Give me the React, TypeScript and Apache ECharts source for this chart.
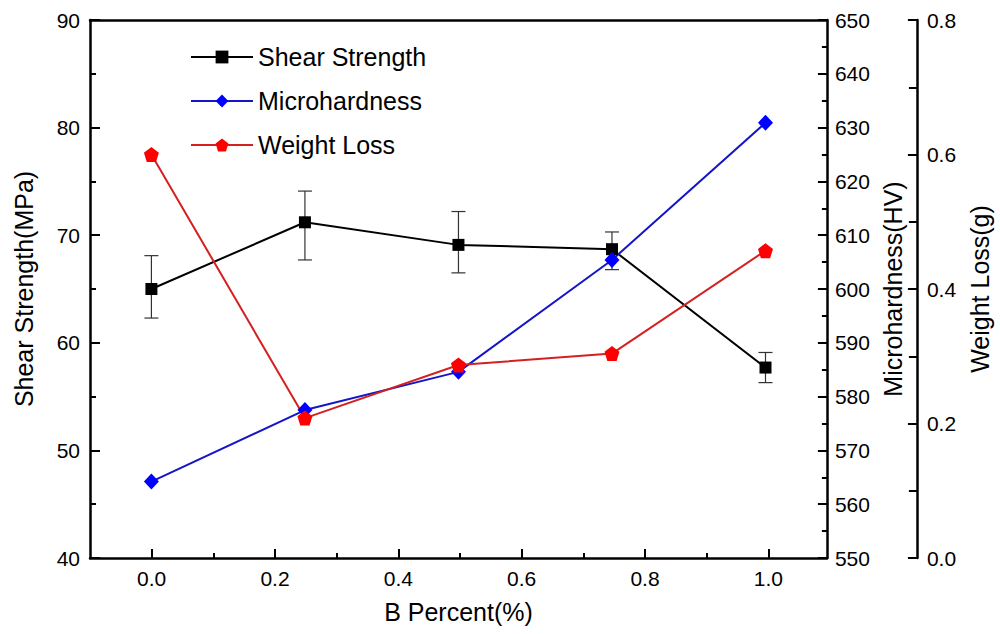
import React, { useEffect, useRef } from "react";
import * as echarts from "echarts";

const bPercent = [0.0, 0.25, 0.5, 0.75, 1.0];
const shearStrength = [65.0, 71.2, 69.1, 68.7, 57.7];
const shearUpper = [68.1, 74.1, 72.2, 70.3, 59.1];
const shearLower = [62.3, 67.7, 66.5, 66.8, 56.3];
const microhardness = [564.2, 577.5, 584.6, 605.4, 630.9];
const weightLoss = [0.6, 0.208, 0.287, 0.304, 0.457];

const seriesNames = ["Shear Strength", "Microhardness", "Weight Loss"];
const axisNames = ["Shear Strength(MPa)", "Microhardness(HV)", "Weight Loss(g)", "B Percent(%)"];

const FONT = "'Liberation Sans', Arial, sans-serif";
const PENTAGON = "path://M0,-10 L9.51,-3.09 L5.88,8.09 L-5.88,8.09 L-9.51,-3.09 Z";

export default function App() {
  const ref = useRef<HTMLDivElement>(null);
  useEffect(() => {
    if (!ref.current) return;
    const chart = echarts.init(ref.current, undefined, { renderer: "svg" });

    const plotLeft = 90;
    const plotRight = 170;
    const plotTop = 20;
    const plotBottom = 76;
    const xMin = -0.1;
    const xMax = 1.1;
    const plotW = 1000 - plotLeft - plotRight;
    const pxPerUnit = plotW / (xMax - xMin);
    const tickLeft = plotLeft + (0 - xMin) * pxPerUnit;
    const tickRight = plotRight + (xMax - 1) * pxPerUnit;

    const axisLineStyle = { color: "#000", width: 2.5 };
    const tickStyle = { color: "#000", width: 2 };
    const labelStyle = { color: "#000", fontSize: 21, fontFamily: FONT };
    const nameStyle = { color: "#000", fontSize: 25, fontFamily: FONT };

    const option: any = {
      animation: false,
      backgroundColor: "#fff",
      grid: [
        { left: plotLeft, right: plotRight, top: plotTop, bottom: plotBottom },
        { left: tickLeft, right: tickRight, top: plotTop, bottom: plotBottom },
      ],
      legend: {
        data: seriesNames,
        orient: "vertical",
        left: 185,
        top: 38,
        itemWidth: 62,
        itemHeight: 16,
        itemGap: 16,
        textStyle: { color: "#000", fontSize: 25, fontFamily: FONT, lineHeight: 28 },
      },
      xAxis: [
        {
          type: "value",
          gridIndex: 0,
          min: xMin,
          max: xMax,
          position: "bottom",
          axisLine: { show: true, onZero: false, lineStyle: axisLineStyle },
          axisTick: { show: false },
          axisLabel: { show: false },
          splitLine: { show: false },
          name: axisNames[3],
          nameLocation: "middle",
          nameGap: 41,
          nameTextStyle: nameStyle,
        },
        {
          type: "value",
          gridIndex: 0,
          min: xMin,
          max: xMax,
          position: "top",
          axisLine: { show: true, onZero: false, lineStyle: axisLineStyle },
          axisTick: { show: false },
          axisLabel: { show: false },
          splitLine: { show: false },
        },
        {
          type: "value",
          gridIndex: 1,
          min: 0,
          max: 1,
          interval: 0.2,
          position: "bottom",
          axisLine: { show: false, onZero: false },
          axisTick: { show: true, inside: true, length: 9, lineStyle: tickStyle },
          minorTick: { show: true, splitNumber: 2, length: 5, lineStyle: tickStyle },
          axisLabel: { ...labelStyle, margin: 10, formatter: (v: number) => v.toFixed(1) },
          splitLine: { show: false },
          minorSplitLine: { show: false },
        },
      ],
      yAxis: [
        {
          type: "value",
          gridIndex: 0,
          min: 40,
          max: 90,
          interval: 10,
          position: "left",
          axisLine: { show: true, onZero: false, lineStyle: axisLineStyle },
          axisTick: { show: true, inside: true, length: 10, lineStyle: tickStyle },
          minorTick: { show: true, splitNumber: 2, length: 6, lineStyle: tickStyle },
          axisLabel: { ...labelStyle, margin: 10 },
          splitLine: { show: false },
          name: axisNames[0],
          nameLocation: "middle",
          nameRotate: 90,
          nameGap: 54,
          nameTextStyle: nameStyle,
        },
        {
          type: "value",
          gridIndex: 0,
          min: 550,
          max: 650,
          interval: 10,
          position: "right",
          axisLine: { show: true, onZero: false, lineStyle: axisLineStyle },
          axisTick: { show: true, inside: true, length: 9, lineStyle: tickStyle },
          minorTick: { show: true, splitNumber: 2, length: 5, lineStyle: tickStyle },
          axisLabel: { ...labelStyle, margin: 8 },
          splitLine: { show: false },
          name: axisNames[1],
          nameLocation: "middle",
          nameRotate: 90,
          nameGap: 40,
          nameTextStyle: nameStyle,
        },
        {
          type: "value",
          gridIndex: 0,
          min: 0,
          max: 0.8,
          interval: 0.2,
          position: "right",
          offset: 90,
          axisLine: { show: true, onZero: false, lineStyle: axisLineStyle },
          axisTick: { show: true, inside: true, length: 9, lineStyle: tickStyle },
          minorTick: { show: true, splitNumber: 2, length: 8, lineStyle: tickStyle },
          axisLabel: { ...labelStyle, margin: 10, formatter: (v: number) => v.toFixed(1) },
          splitLine: { show: false },
          name: axisNames[2],
          nameLocation: "middle",
          nameRotate: 90,
          nameGap: 38,
          nameTextStyle: nameStyle,
        },
        {
          type: "value",
          gridIndex: 1,
          min: 0,
          max: 1,
          show: false,
        },
      ],
      series: [
        {
          type: "custom",
          name: "errors",
          xAxisIndex: 0,
          yAxisIndex: 0,
          z: 1,
          data: bPercent.map((x, i) => [x, shearLower[i], shearUpper[i]]),
          encode: { x: 0, y: [1, 2] },
          renderItem: (params: any, api: any) => {
            const x = api.value(0);
            const lo = api.coord([x, api.value(1)]);
            const hi = api.coord([x, api.value(2)]);
            const cap = 7;
            const style = { stroke: "#333", lineWidth: 1.2 };
            return {
              type: "group",
              children: [
                { type: "line", shape: { x1: lo[0], y1: lo[1], x2: hi[0], y2: hi[1] }, style },
                { type: "line", shape: { x1: lo[0] - cap, y1: lo[1], x2: lo[0] + cap, y2: lo[1] }, style },
                { type: "line", shape: { x1: hi[0] - cap, y1: hi[1], x2: hi[0] + cap, y2: hi[1] }, style },
              ],
            };
          },
        },
        {
          type: "line",
          name: seriesNames[0],
          xAxisIndex: 0,
          yAxisIndex: 0,
          z: 3,
          data: bPercent.map((x, i) => [x, shearStrength[i]]),
          symbol: "rect",
          symbolSize: 12,
          itemStyle: { color: "#000" },
          lineStyle: { color: "#000", width: 2 },
        },
        {
          type: "line",
          name: seriesNames[1],
          xAxisIndex: 0,
          yAxisIndex: 1,
          z: 3,
          data: bPercent.map((x, i) => [x, microhardness[i]]),
          symbol: "diamond",
          symbolSize: [15, 16],
          itemStyle: { color: "#0000ff" },
          lineStyle: { color: "#1515c8", width: 2 },
        },
        {
          type: "line",
          name: seriesNames[2],
          xAxisIndex: 0,
          yAxisIndex: 2,
          z: 3,
          data: bPercent.map((x, i) => [x, weightLoss[i]]),
          symbol: PENTAGON,
          symbolSize: 15,
          itemStyle: { color: "#ff0000" },
          lineStyle: { color: "#d42020", width: 2 },
        },
      ],
    };
    chart.setOption(option);
    return () => chart.dispose();
  }, []);

  return (
    <div
      ref={ref}
      style={{ position: "fixed", left: 0, top: 0, width: 1000, height: 634, background: "#fff" }}
    />
  );
}
